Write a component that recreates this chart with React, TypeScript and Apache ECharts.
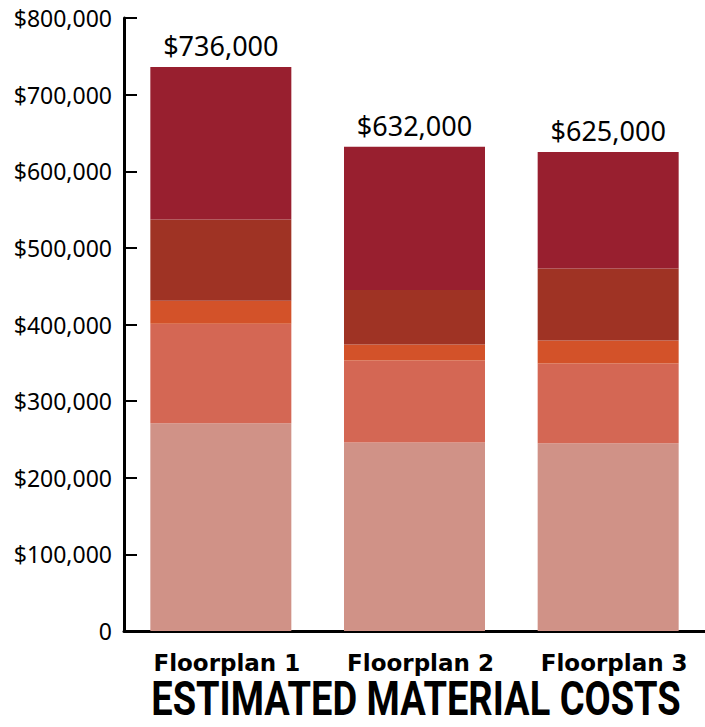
import React, { useEffect, useRef } from "react";
import * as echarts from "echarts";

const categories = ["Floorplan 1", "Floorplan 2", "Floorplan 3"];
const layer1 = [271000, 246000, 245000];
const layer2 = [130000, 107000, 104000];
const layer3 = [30000, 21000, 30000];
const layer4 = [106000, 71000, 94000];
const layer5 = [199000, 187000, 152000];
const colors = ["#d09287", "#d46754", "#d35229", "#9f3324", "#981f2f"];
const yTicks = { min: 0, max: 800000, interval: 100000 };
const titleText = "ESTIMATED MATERIAL COSTS";

const layers = [layer1, layer2, layer3, layer4, layer5];
const totals = categories.map((_, i) => layers.reduce((s, l) => s + l[i], 0));
const fmt = (v: number) => "$" + v.toLocaleString("en-US");

export default function App() {
  const ref = useRef<HTMLDivElement>(null);
  useEffect(() => {
    if (!ref.current) return;
    const chart = echarts.init(ref.current, undefined, { renderer: "svg" });
    const series = layers.map((data, idx) => ({
      type: "bar" as const,
      stack: "total",
      data,
      barWidth: 141,
      itemStyle: { color: colors[idx] },
      label:
        idx === layers.length - 1
          ? {
              show: true,
              position: "top" as const,
              distance: 8,
              formatter: (p: any) => fmt(totals[p.dataIndex]),
              color: "#000",
              fontSize: 27,
              fontFamily: "Noto Sans",
            }
          : { show: false },
    }));
    chart.setOption({
      animation: false,
      backgroundColor: "#fff",
      graphic: [
        {
          type: "text",
          x: 416,
          y: 699,
          scaleY: 1.25,
          style: {
            text: titleText,
            fontFamily: "Roboto",
            fontWeight: "bold",
            fontSize: 38,
            lineHeight: 30,
            fill: "#000",
            align: "center",
            verticalAlign: "middle",
          },
        },
      ],
      grid: { left: 124, right: -3, top: 18, bottom: 96, containLabel: false },
      xAxis: {
        type: "category",
        data: categories,
        axisLine: { lineStyle: { color: "#000", width: 3 } },
        axisTick: { inside: true, length: 14, lineStyle: { color: "#000", width: 2 } },
        axisLabel: {
          color: "#000",
          fontSize: 23,
          fontWeight: "bold",
          fontFamily: "DejaVu Sans",
          margin: 20,
          interval: 0,
          hideOverlap: false,
          padding: [0, 0, 0, 12],
        },
      },
      yAxis: {
        type: "value",
        min: yTicks.min,
        max: yTicks.max,
        interval: yTicks.interval,
        splitLine: { show: false },
        axisLine: { show: true, lineStyle: { color: "#000", width: 3 } },
        axisTick: { show: true, inside: true, length: 13, lineStyle: { color: "#000", width: 2 } },
        axisLabel: {
          color: "#000",
          fontSize: 23,
          fontFamily: "Noto Sans",
          margin: 12,
          formatter: (v: number) => (v === 0 ? "0" : fmt(v)),
        },
      },
      series,
    });
    return () => chart.dispose();
  }, []);
  return (
    <div
      ref={ref}
      style={{ position: "fixed", left: 0, top: 0, width: 705, height: 727 }}
    />
  );
}
